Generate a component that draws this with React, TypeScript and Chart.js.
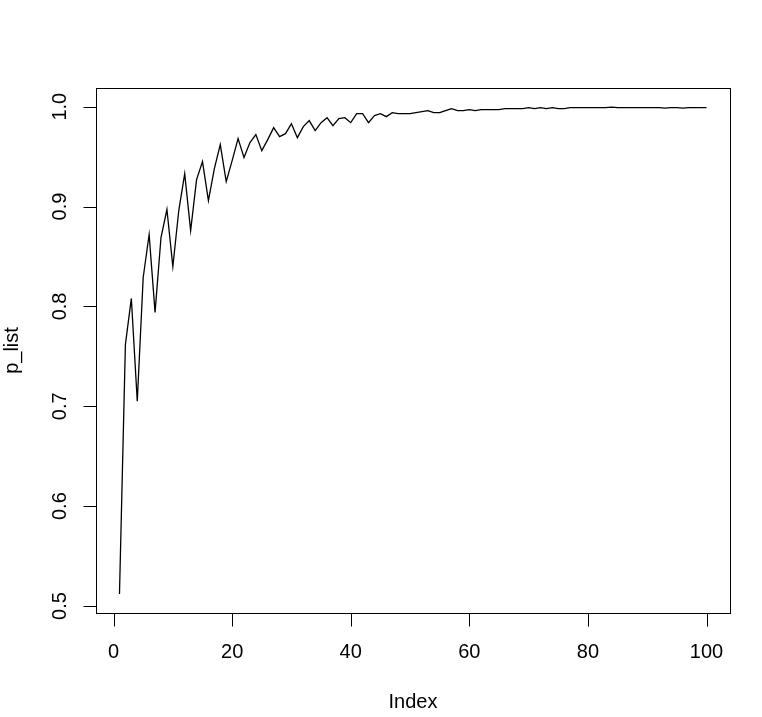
import React, { useEffect, useRef } from "react";
import { Chart, registerables } from "chart.js";

Chart.register(...registerables);

const pList: number[] = [
  0.512, 0.762, 0.808, 0.705, 0.829, 0.872, 0.794, 0.869, 0.897, 0.840,
  0.896, 0.933, 0.876, 0.927, 0.945, 0.906, 0.938, 0.962, 0.925, 0.946,
  0.968, 0.949, 0.964, 0.972, 0.956, 0.967, 0.979, 0.970, 0.973, 0.983,
  0.969, 0.980, 0.986, 0.976, 0.984, 0.989, 0.981, 0.988, 0.989, 0.984,
  0.993, 0.993, 0.984, 0.991, 0.993, 0.990, 0.994, 0.993, 0.993, 0.993,
  0.994, 0.995, 0.996, 0.994, 0.994, 0.996, 0.998, 0.996, 0.996, 0.997,
  0.996, 0.997, 0.997, 0.997, 0.997, 0.998, 0.998, 0.998, 0.998, 0.999,
  0.998, 0.999, 0.998, 0.999, 0.998, 0.998, 0.999, 0.999, 0.999, 0.999,
  0.999, 0.999, 0.999, 0.9995, 0.999, 0.999, 0.999, 0.999, 0.999, 0.999,
  0.999, 0.999, 0.9985, 0.999, 0.999, 0.9985, 0.999, 0.999, 0.999, 0.999,
];
const indexValues: number[] = pList.map((_, i) => i + 1);
const xTicks: number[] = [0, 20, 40, 60, 80, 100];
const yTicks: number[] = [0.5, 0.6, 0.7, 0.8, 0.9, 1.0];
const xTitle = "Index";
const yTitle = "p_list";

const FONT = '20px "Liberation Sans", Arial, sans-serif';

const rPlotPlugin = {
  id: "rPlot",
  afterDraw(chart: any) {
    const { ctx, chartArea, scales } = chart;
    const xs = scales.x;
    const ys = scales.y;
    ctx.save();
    ctx.strokeStyle = "#000";
    ctx.lineWidth = 1;
    // box
    ctx.strokeRect(
      Math.round(chartArea.left) + 0.5,
      Math.round(chartArea.top) + 0.5,
      Math.round(chartArea.right - chartArea.left),
      Math.round(chartArea.bottom - chartArea.top)
    );
    const tl = 13;
    ctx.fillStyle = "#000";
    ctx.font = FONT;
    // x ticks
    const bottom = Math.round(chartArea.bottom) + 0.5;
    ctx.beginPath();
    const x0 = Math.round(xs.getPixelForValue(xTicks[0])) + 0.5;
    const x1 = Math.round(xs.getPixelForValue(xTicks[xTicks.length - 1])) + 0.5;
    ctx.moveTo(x0, bottom);
    ctx.lineTo(x1, bottom);
    xTicks.forEach((v) => {
      const px = Math.round(xs.getPixelForValue(v)) + 0.5;
      ctx.moveTo(px, bottom);
      ctx.lineTo(px, bottom + tl);
    });
    ctx.stroke();
    ctx.textAlign = "center";
    ctx.textBaseline = "middle";
    xTicks.forEach((v) => {
      const px = xs.getPixelForValue(v);
      ctx.fillText(String(v), px, 652);
    });
    ctx.fillText(xTitle, (chartArea.left + chartArea.right) / 2, 702);
    // y ticks
    const left = Math.round(chartArea.left) + 0.5;
    ctx.beginPath();
    const y0 = Math.round(ys.getPixelForValue(yTicks[0])) + 0.5;
    const y1 = Math.round(ys.getPixelForValue(yTicks[yTicks.length - 1])) + 0.5;
    ctx.moveTo(left, y0);
    ctx.lineTo(left, y1);
    yTicks.forEach((v) => {
      const py = Math.round(ys.getPixelForValue(v)) + 0.5;
      ctx.moveTo(left, py);
      ctx.lineTo(left - tl, py);
    });
    ctx.stroke();
    yTicks.forEach((v) => {
      const py = ys.getPixelForValue(v);
      ctx.save();
      ctx.translate(60, py);
      ctx.rotate(-Math.PI / 2);
      ctx.fillText(v.toFixed(1), 0, 0);
      ctx.restore();
    });
    ctx.save();
    ctx.translate(12, (chartArea.top + chartArea.bottom) / 2);
    ctx.rotate(-Math.PI / 2);
    ctx.fillText(yTitle, 0, 0);
    ctx.restore();
    ctx.restore();
  },
};

export default function App() {
  const ref = useRef<HTMLCanvasElement | null>(null);
  useEffect(() => {
    document.body.style.margin = "0";
    document.body.style.background = "#fff";
    const canvas = ref.current;
    if (!canvas) return;
    const chart = new Chart(canvas, {
      type: "line",
      data: {
        datasets: [
          {
            data: indexValues.map((x, i) => ({ x, y: pList[i] })),
            borderColor: "#000",
            borderWidth: 1.3,
            pointRadius: 0,
            tension: 0,
            fill: false,
          },
        ],
      },
      options: {
        animation: false,
        responsive: false,
        maintainAspectRatio: false,
        layout: { padding: { left: 96, right: 32, top: 88, bottom: 104 } },
        plugins: { legend: { display: false }, tooltip: { enabled: false } },
        scales: {
          x: { type: "linear", display: false, min: -2.96, max: 103.96 },
          y: { type: "linear", display: false, min: 0.4930, max: 1.0187 },
        },
      },
      plugins: [rPlotPlugin],
    });
    return () => chart.destroy();
  }, []);
  return (
    <div style={{ width: 762, height: 717, background: "#fff" }}>
      <canvas ref={ref} width={762} height={717} style={{ display: "block" }} />
    </div>
  );
}
